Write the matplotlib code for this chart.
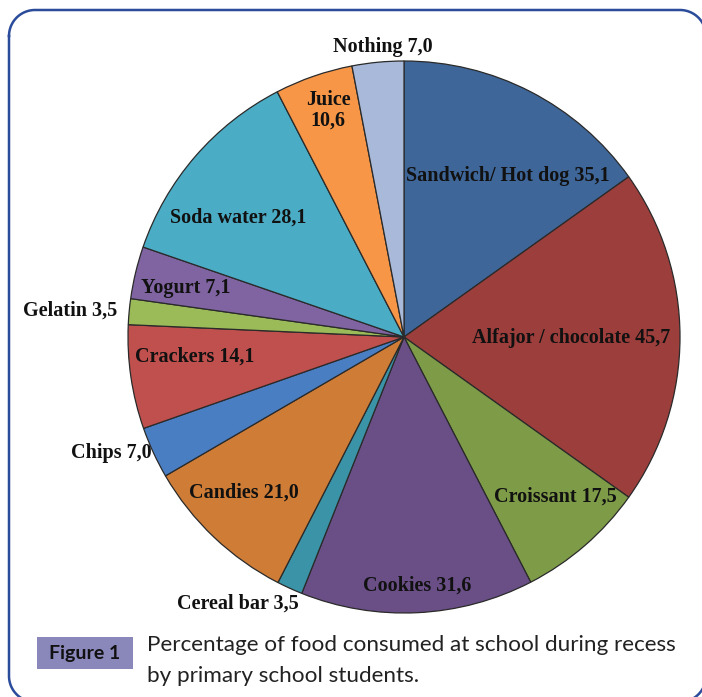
import numpy as np
import matplotlib
matplotlib.use("Agg")
import matplotlib.pyplot as plt
from matplotlib.patches import Rectangle

plt.rcParams["savefig.bbox"] = "standard"

categories = ["Sandwich/ Hot dog", "Alfajor / chocolate", "Croissant", "Cookies",
              "Cereal bar", "Candies", "Chips", "Crackers", "Gelatin", "Yogurt",
              "Soda water", "Juice", "Nothing"]
values = [35.1, 45.7, 17.5, 31.6, 3.5, 21.0, 7.0, 14.1, 3.5, 7.1, 28.1, 10.6, 7.0]
value_labels = ["35,1", "45,7", "17,5", "31,6", "3,5", "21,0", "7,0", "14,1",
                "3,5", "7,1", "28,1", "10,6", "7,0"]
colors = ["#3f6699", "#9c3e3b", "#7e9b47", "#6a4f87", "#3a93a6", "#cf7d36",
          "#4a7ec3", "#c0504d", "#9bbb59", "#8064a2", "#4bacc6", "#f79646", "#a9b9d9"]
# label positions in pie data units (radius = 1)
label_pos = [(0.375, 0.585), (0.605, -0.004), (0.547, -0.58), (0.047, -0.902),
             (-0.601, -0.967), (-0.58, -0.562), (-1.06, -0.42), (-0.757, -0.072),
             (-1.21, 0.094), (-0.79, 0.178), (-0.601, 0.431), (-0.275, 0.822),
             (-0.076, 1.051)]

W, H = 702, 697
fig = plt.figure(figsize=(W / 100, H / 100), dpi=100)
fig.patch.set_facecolor("white")

# overlay axes in pixel coordinates for frame and caption
ov = fig.add_axes([0, 0, 1, 1])
ov.set_xlim(0, W)
ov.set_ylim(H, 0)
ov.axis("off")

# rounded frame built from line segments (partly beyond the canvas, like the original)
x0, x1, y0, y1, rr = 9, 706, 10, 702, 26
t = np.linspace(0, np.pi / 2, 30)
xs, ys = [], []
# top-left corner
xs += list(x0 + rr - rr * np.cos(t)); ys += list(y0 + rr - rr * np.sin(t))
# top-right corner
xs += list(x1 - rr + rr * np.sin(t)); ys += list(y0 + rr - rr * np.cos(t))
# bottom-right corner
xs += list(x1 - rr + rr * np.cos(t)); ys += list(y1 - rr + rr * np.sin(t))
# bottom-left corner
xs += list(x0 + rr - rr * np.sin(t)); ys += list(y1 - rr + rr * np.cos(t))
xs.append(xs[0]); ys.append(ys[0])
ov.plot(xs, ys, color="#2b4c9b", linewidth=1.8, solid_joinstyle="round")

ov.add_patch(Rectangle((37, 637), 96, 32, facecolor="#8a87bb", edgecolor="none"))
ov.text(85, 653, "Figure 1", ha="center", va="center", fontsize=14,
        fontweight="bold", family="Lato", color="#111111")
ov.text(147, 645, "Percentage of food consumed at school during recess",
        ha="left", va="center", fontsize=16.2, family="Lato", color="#222222")
ov.text(147, 676, "by primary school students.",
        ha="left", va="center", fontsize=16.2, family="Lato", color="#222222")

cx, cy, r = 404, 337, 276
ax = fig.add_axes([(cx - r) / W, (H - cy - r) / H, 2 * r / W, 2 * r / H])
ax.pie(values, colors=colors, startangle=90, counterclock=False, radius=1,
       wedgeprops=dict(edgecolor="#2a2a2a", linewidth=0.9))
ax.set_xlim(-1, 1)
ax.set_ylim(-1, 1)
ax.set_aspect("equal")
ax.axis("off")

for cat, vl, (x, y) in zip(categories, value_labels, label_pos):
    txt = f"{cat}\n{vl}" if cat == "Juice" else f"{cat} {vl}"
    ax.text(x, y, txt, ha="center", va="center", fontsize=14.5,
            fontweight="bold", family="Liberation Serif", color="#111111",
            clip_on=False, linespacing=1.05)

fig.savefig("out.png", dpi=100)
